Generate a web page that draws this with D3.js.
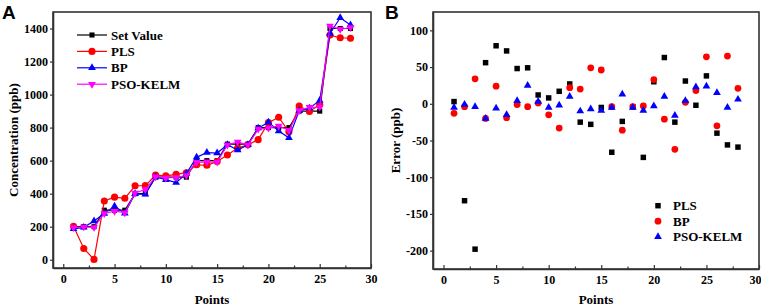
<!DOCTYPE html>
<html>
<head>
<meta charset="utf-8">
<script src="https://cdn.jsdelivr.net/npm/d3@7"></script>
<style>
  body { margin: 0; background: #fff; }
  text { font-family: "Liberation Serif", "Times New Roman", serif; font-weight: bold; }
  .panel-letter { font-family: "Liberation Sans", Arial, sans-serif; font-size: 19px; }
</style>
</head>
<body>
<svg id="chart" width="761" height="308"></svg>
<script>
const points = [1, 2, 3, 4, 5, 6, 7, 8, 9, 10, 11, 12, 13, 14, 15, 16, 17, 18, 19, 20, 21, 22, 23, 24, 25, 26, 27, 28];

// panel A: concentrations (ppb)
const setValue = [200, 200, 200, 300, 300, 300, 400, 400, 500, 500, 500, 500, 600, 600, 600, 700, 700, 700, 800, 800, 800, 800, 900, 900, 900, 1400, 1400, 1400];
const plsPred = [203, 68, 2, 356, 379, 372, 448, 449, 512, 508, 517, 527, 575, 572, 595, 634, 676, 696, 727, 830, 863, 775, 931, 898, 938, 1360, 1344, 1341];
const bpPred = [187, 196, 234, 280, 324, 281, 399, 396, 501, 485, 467, 522, 620, 649, 646, 696, 664, 696, 797, 833, 779, 738, 902, 918, 964, 1370, 1465, 1421];
const kelmPred = [195, 199, 196, 280, 294, 285, 404, 425, 503, 495, 498, 510, 590, 593, 591, 695, 713, 695, 791, 797, 810, 784, 904, 923, 924, 1415, 1395, 1406];

// panel B: errors (ppb)
const plsErr = [3, -132, -198, 56, 79, 72, 48, 49, 12, 8, 17, 27, -25, -28, -5, -66, -24, -4, -73, 30, 63, -25, 31, -2, 38, -40, -56, -59];
const bpErr = [-13, -4, 34, -20, 24, -19, -1, -4, 1, -15, -33, 22, 20, 49, 46, -4, -36, -4, -3, 33, -21, -62, 2, 18, 64, -30, 65, 21];
const kelmErr = [-5, -1, -4, -20, -6, -15, 4, 25, 3, -5, -2, 10, -10, -7, -9, -5, 13, -5, -9, -3, 10, -16, 4, 23, 24, 15, -5, 6];

const xTicks = [0, 5, 10, 15, 20, 25, 30];
const xMinorTicks = [2.5, 7.5, 12.5, 17.5, 22.5, 27.5];
const yTicksA = [0, 200, 400, 600, 800, 1000, 1200, 1400];
const yTicksB = [-200, -150, -100, -50, 0, 50, 100];

const svg = d3.select('#chart');
const axisColor = '#333';
const plain = d => String(d);

const sym = {
  square: d3.symbol().type(d3.symbolSquare),
  circle: d3.symbol().type(d3.symbolCircle),
  triangle: d3.symbol().type(d3.symbolTriangle)
};

function drawFrame(x, y, yTicks, xLabel, yLabel, yLabelX) {
  const [x0, x1] = x.range();
  const [y1, y0] = y.range();

  const gx = svg.append('g')
    .attr('transform', 'translate(0,' + y1 + ')')
    .call(d3.axisBottom(x).tickValues(xTicks).tickFormat(plain)
      .tickSize(-4).tickSizeOuter(0).tickPadding(6));
  svg.append('g')
    .attr('transform', 'translate(0,' + y1 + ')')
    .call(d3.axisBottom(x).tickValues(xMinorTicks).tickSize(-2.5).tickSizeOuter(0).tickFormat(''))
    .call(g => g.select('.domain').remove())
    .selectAll('line').attr('stroke', axisColor).attr('stroke-width', 1.2);

  const gy = svg.append('g')
    .attr('transform', 'translate(' + x0 + ',0)')
    .call(d3.axisLeft(y).tickValues(yTicks).tickFormat(plain)
      .tickSize(3).tickSizeOuter(0).tickPadding(2));

  [gx, gy].forEach(g => {
    g.attr('font-family', '"Liberation Serif", "Times New Roman", serif')
      .attr('font-size', 12)
      .attr('font-weight', 'bold');
    g.selectAll('text').attr('fill', '#000');
    g.selectAll('line').attr('stroke', axisColor).attr('stroke-width', 1.2);
    g.select('.domain').attr('stroke', axisColor).attr('stroke-width', 1.6);
  });

  svg.append('rect')
    .attr('x', x0).attr('y', y0)
    .attr('width', x1 - x0).attr('height', y1 - y0)
    .attr('fill', 'none')
    .attr('stroke', axisColor)
    .attr('stroke-width', 1.6);

  svg.append('text')
    .attr('x', (x0 + x1) / 2).attr('y', 304)
    .attr('text-anchor', 'middle')
    .attr('font-size', 13)
    .text(xLabel);

  svg.append('text')
    .attr('transform', 'translate(' + yLabelX + ',' + ((y0 + y1) / 2) + ') rotate(-90)')
    .attr('text-anchor', 'middle')
    .attr('font-size', 13)
    .text(yLabel);

  return gx;
}

// ---------- Panel A ----------
const xA = d3.scaleLinear().domain([-1, 30]).range([53, 371]);
const yA = d3.scaleLinear().domain([-50, 1500]).range([268, 12]);

drawFrame(xA, yA, yTicksA, 'Points', 'Concentration (ppb)', 18);

const seriesA = [
  { name: 'Set Value', values: setValue, color: '#000000', shape: 'square', size: 26, rot: 0 },
  { name: 'PLS', values: plsPred, color: '#ff0000', shape: 'circle', size: 40, rot: 0 },
  { name: 'BP', values: bpPred, color: '#0000ff', shape: 'triangle', size: 26, rot: 0 },
  { name: 'PSO-KELM', values: kelmPred, color: '#ff00ff', shape: 'triangle', size: 26, rot: 180 }
];

const lineA = d3.line()
  .x(d => xA(d[0]))
  .y(d => yA(d[1]));

seriesA.forEach(s => {
  const rows = points.map((p, i) => [p, s.values[i]]);
  svg.append('path')
    .datum(rows)
    .attr('d', lineA)
    .attr('fill', 'none')
    .attr('stroke', s.color)
    .attr('stroke-width', 1.2);

  svg.selectAll(null)
    .data(rows)
    .enter()
    .append('path')
    .attr('d', sym[s.shape].size(s.size)())
    .attr('transform', d => 'translate(' + xA(d[0]) + ',' + yA(d[1]) + ') rotate(' + s.rot + ')')
    .attr('fill', s.color);
});

// legend A
const legA = svg.append('g');
seriesA.forEach((s, i) => {
  const cy = 35 + i * 16.4;
  legA.append('line')
    .attr('x1', 77).attr('x2', 107)
    .attr('y1', cy).attr('y2', cy)
    .attr('stroke', s.color).attr('stroke-width', 1.2);
  legA.append('path')
    .attr('d', sym[s.shape].size(s.size)())
    .attr('transform', 'translate(92,' + cy + ') rotate(' + s.rot + ')')
    .attr('fill', s.color);
  legA.append('text')
    .attr('x', 111).attr('y', cy + 4.6)
    .attr('font-size', 13)
    .text(s.name);
});

svg.append('text').attr('class', 'panel-letter').attr('x', 2).attr('y', 19).text('A');

// ---------- Panel B ----------
const xB = d3.scaleLinear().domain([-1, 30]).range([433, 759]);
const yB = d3.scaleLinear().domain([-225, 125]).range([269, 12]);

const gxB = drawFrame(xB, yB, yTicksB, 'Points', 'Error (ppb)', 400);
// last label sits at the window edge; nudge it inside
gxB.selectAll('.tick text').filter(d => d === 30).attr('dx', -4);

const seriesB = [
  { name: 'PLS', values: plsErr, color: '#000000', shape: 'square', size: 30 },
  { name: 'BP', values: bpErr, color: '#ff0000', shape: 'circle', size: 36 },
  { name: 'PSO-KELM', values: kelmErr, color: '#0000ff', shape: 'triangle', size: 26 }
];

seriesB.forEach(s => {
  svg.selectAll(null)
    .data(points.map((p, i) => [p, s.values[i]]))
    .enter()
    .append('path')
    .attr('d', sym[s.shape].size(s.size)())
    .attr('transform', d => 'translate(' + xB(d[0]) + ',' + yB(d[1]) + ')')
    .attr('fill', s.color);
});

// legend B
seriesB.forEach((s, i) => {
  const cy = 205.7 + i * 15.5;
  svg.append('path')
    .attr('d', sym[s.shape].size(s.size)())
    .attr('transform', 'translate(658,' + cy + ')')
    .attr('fill', s.color);
  svg.append('text')
    .attr('x', 673).attr('y', cy + 4.6)
    .attr('font-size', 13)
    .text(s.name);
});

svg.append('text').attr('class', 'panel-letter').attr('x', 385).attr('y', 19).text('B');
</script>
</body>
</html>
